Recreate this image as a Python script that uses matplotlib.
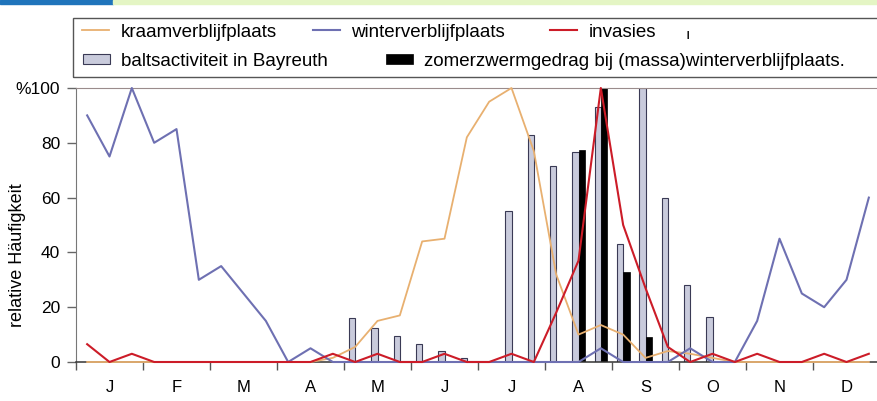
import numpy as np
import matplotlib.pyplot as plt
from matplotlib.patches import Rectangle

plt.rcParams['font.family'] = ['Liberation Sans', 'DejaVu Sans']

# three values per month (decades), Jan..Dec
months = ['J', 'F', 'M', 'A', 'M', 'J', 'J', 'A', 'S', 'O', 'N', 'D']
kraam = [0, 0, 0, 0, 0, 0, 0, 0, 0, 0, 0, 1.5,
         5.5, 15, 17, 44, 45, 82, 95, 100, 77, 32, 10, 13.5,
         10, 1.5, 4, 3, 1.5, 0, 0, 0, 0, 0, 0, 0]
winter = [90, 75, 100, 80, 85, 30, 35, 25, 15, 0, 5, 0,
          0, 0, 0, 0, 0, 0, 0, 0, 0, 0, 0, 5,
          0, 0, 0, 5, 0, 0, 15, 45, 25, 20, 30, 60]
invasies = [6.5, 0, 3, 0, 0, 0, 0, 0, 0, 0, 0, 3,
            0, 3, 0, 0, 3, 0, 0, 3, 0, 18, 37, 100,
            50, 27, 5.5, 0, 3, 0, 3, 0, 0, 3, 0, 3]

# bars: decade index -> value
balts_idx = [12, 13, 14, 15, 16, 17, 19, 20, 21, 22, 23, 24, 25, 26, 27, 28]
balts_val = [16, 12.5, 9.5, 6.5, 4, 1.5, 55, 83, 71.5, 76.5, 93, 43, 100, 60, 28, 16.5]
zomer_idx = [22, 23, 24, 25]
zomer_val = [77.5, 100, 33, 9]

x = (np.arange(36) + 0.5) / 3.0

fig = plt.figure(figsize=(8.77, 4.01), dpi=100)
W, H = 877.0, 401.0
ax = fig.add_axes([76 / W, 1 - 362 / H, 804 / W, 274 / H])

bw = 0.095
b1 = ax.bar(x[balts_idx] - 0.045, balts_val, width=bw, color='#c9cbdc',
            edgecolor='#3a3a55', linewidth=0.8, zorder=2)
b2 = ax.bar(x[zomer_idx] + 0.05, zomer_val, width=bw, color='black',
            edgecolor='black', linewidth=0.5, zorder=2)

l1, = ax.plot(x, kraam, color='#e8b070', lw=1.3, clip_on=False, zorder=3)
l2, = ax.plot(x, winter, color='#6e70b2', lw=1.5, clip_on=False, zorder=3)
l3, = ax.plot(x, invasies, color='#cc1c28', lw=1.5, clip_on=False, zorder=4)

ax.set_xlim(0, 12)
ax.set_ylim(0, 100)

ax.set_xticks(np.arange(13))
ax.set_xticklabels([])
ax.set_xticks(np.arange(12) + 0.5, minor=True)
ax.set_xticklabels(months, minor=True, fontsize=12)
ax.tick_params(axis='x', which='major', length=6, color='#555555', width=1)
ax.tick_params(axis='x', which='minor', length=0, pad=13)

ax.set_yticks([0, 20, 40, 60, 80, 100])
ax.set_yticklabels(['0', '20', '40', '60', '80', '%100'], fontsize=12.5)
ax.tick_params(axis='y', length=6.5, pad=5, color='#666666', width=1)

ax.spines['right'].set_visible(False)
ax.spines['top'].set_color('#9a8c8c')
ax.spines['left'].set_color('#777777')
ax.spines['bottom'].set_color('#333333')
ax.spines['bottom'].set_linewidth(1.1)

fig.text(18 / W, 1 - 255 / H, 'relative Häufigkeit', rotation=90,
         ha='center', va='center', fontsize=13)

# legend entries placed one by one
entries = [(l1, 'kraamverblijfplaats', 82, 32, 0.7),
           (l2, 'winterverblijfplaats', 313, 32, 0.7),
           (l3, 'invasies', 550, 32, 0.7),
           (b1, 'baltsactiviteit in Bayreuth', 83, 61, 0.4),
           (b2, 'zomerzwermgedrag bij (massa)winterverblijfplaats.', 386, 61, 0.4)]
for h, lab, px, py, hh in entries:
    fig.legend([h], [lab], loc='center left', bbox_to_anchor=(px / W, 1 - py / H),
               frameon=False, fontsize=13.5, borderpad=0, borderaxespad=0,
               handlelength=1.45, handleheight=hh, handletextpad=0.6)

fig.patches.append(Rectangle((73 / W, 1 - 77 / H), 810 / W, 59 / H,
                             transform=fig.transFigure, fill=False,
                             edgecolor='#555555', lw=1))
fig.text(688 / W, 1 - 35 / H, 'ı', fontsize=11, ha='center', va='center')

# header strip
fig.patches.append(Rectangle((0, 1 - 4 / H), 113 / W, 4 / H,
                             transform=fig.transFigure, color='#1f74bb'))
fig.patches.append(Rectangle((113 / W, 1 - 4 / H), 1, 4 / H,
                             transform=fig.transFigure, color='#e4f5c4'))

fig.savefig('out.png', dpi=100)
